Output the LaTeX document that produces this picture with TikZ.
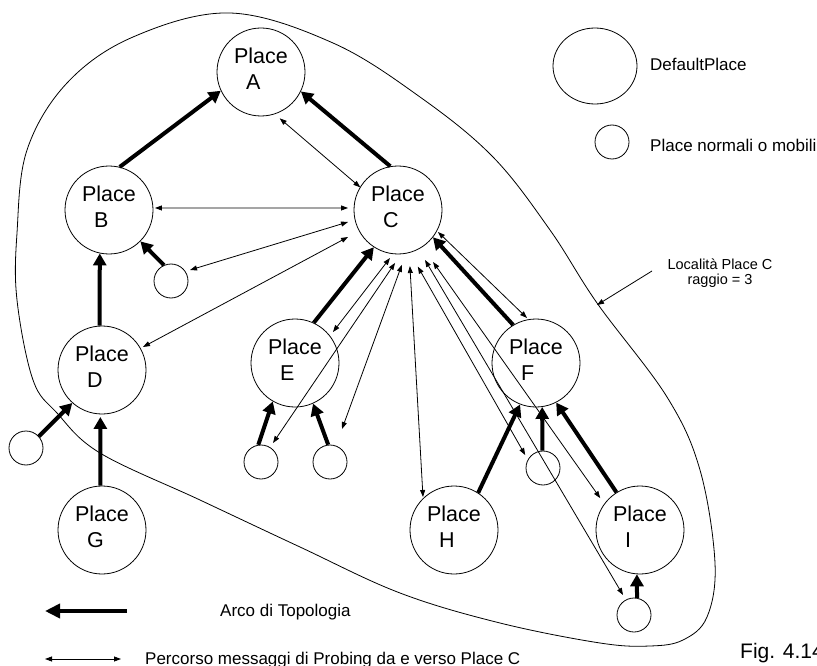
\documentclass[tikz,border=0pt]{standalone}
\usepackage{fontspec}
\setmainfont{Liberation Sans}
\usetikzlibrary{arrows.meta,calc,shapes.geometric}

\begin{document}
\begin{tikzpicture}[x=1pt,y=1pt,
  place/.style={draw, circle, line width=0.8pt, minimum size=88pt, inner sep=0pt,
                align=left, font=\fontsize{21.5}{26}\selectfont, text depth=7pt},
  mini/.style={draw, circle, line width=0.8pt, minimum size=34pt, inner sep=0pt},
  topo/.style={line width=4pt, -{Triangle[length=12pt,width=13pt]}},
  probe/.style={line width=0.8pt, {Triangle[length=7pt,width=5pt]}-{Triangle[length=7pt,width=5pt]}},
  legend/.style={anchor=base west, font=\fontsize{17}{20}\selectfont, inner sep=0pt},
]
\useasboundingbox (0,-666) rectangle (817,0);

% locality of Place C
\draw[line width=0.8pt] plot[smooth cycle, tension=0.6] coordinates {
  (230,-13) (333,-43) (420,-97) (493,-157) (550,-230) (597,-303) (667,-397)
  (700,-470) (715,-563) (707,-617) (683,-640) (650,-646) (600,-643) (500,-623)
  (400,-593) (300,-547) (200,-500) (100,-453) (57,-413) (33,-380) (17,-300)
  (17,-233) (27,-150) (67,-83) (133,-37)};

% places
\node[place] (A) at (261,-72)  {Place\\\hspace*{12pt}A};
\node[place] (B) at (109,-210) {Place\\\hspace*{12pt}B};
\node[place] (C) at (398,-210) {Place\\\hspace*{12pt}C};
\node[place] (D) at (102,-370) {Place\\\hspace*{12pt}D};
\node[place] (E) at (295,-363) {Place\\\hspace*{12pt}E};
\node[place] (F) at (536,-363) {Place\\\hspace*{12pt}F};
\node[place] (G) at (102,-530) {Place\\\hspace*{12pt}G};
\node[place] (H) at (454,-530) {Place\\\hspace*{12pt}H};
\node[place] (I) at (640,-530) {Place\\\hspace*{12pt}I};

\node[mini] (sB)  at (171,-281) {};
\node[mini] (sD)  at (26,-448)  {};
\node[mini] (sE1) at (261,-462) {};
\node[mini] (sE2) at (330,-462) {};
\node[mini] (sF)  at (543,-468) {};
\node[mini] (sI)  at (634,-615) {};
\coordinate (free) at (342,-429);

% topology arcs
\draw[topo] (B.76) -- (A.205);
\draw[topo] (C.100) -- (A.334);
\draw[topo] (sB.114) -- (B.315);
\draw[topo] (D.93) -- (B.258);
\draw[topo] (sD.42) -- (D.228);
\draw[topo] (G.92) -- ($(D)+(268:47)$);
\draw[topo] (E.65) -- (C.237);
\draw[topo] (sE1.99) -- (E.240);
\draw[topo] (sE2.96) -- (E.294);
\draw[topo] (F.121) -- (C.322);
\draw[topo] (H.57) -- (F.249);
\draw[topo] (sF.92) -- (F.278);
\draw[topo] (I.122) -- (F.297);
\draw[topo] (sI.80) -- (I.266);

% probing paths to and from Place C
\draw[probe] ($(A)+(292:50)$) -- ($(C)+(149:44)$);
\draw[probe] ($(B)+(2.5:46)$) -- ($(C)+(177.7:50)$);
\draw[probe] ($(sB)+(30:22)$) -- ($(C)+(193.5:51.4)$);
\draw[probe] ($(D)+(29.3:47)$) -- ($(C)+(208.4:56.8)$);
\draw[probe] ($(E)+(39.2:49)$) -- ($(C)+(260.5:48.7)$);
\draw[probe] ($(sE1)+(57.7:22.5)$) -- ($(C)+(266.8:53)$);
\draw[probe] (free) -- ($(C)+(274:55)$);
\draw[probe] ($(H)+(133.2:45.3)$) -- ($(C)+(282:57.3)$);
\draw[probe] ($(sF)+(144:22)$) -- ($(C)+(289.3:60)$);
\draw[probe] ($(sI)+(118.8:22.8)$) -- ($(C)+(298.4:56.8)$);
\draw[probe] ($(I)+(141.3:51)$) -- ($(C)+(304:62.7)$);
\draw[probe] ($(F)+(101.3:45.9)$) -- ($(C)+(331.2:45.6)$);

% legend, top right
\node[draw, ellipse, line width=0.8pt, minimum width=84pt, minimum height=76pt, inner sep=0pt]
  (defplace) at (595,-66) {};
\node[mini] (normplace) at (612,-142) {};
\node[legend] at (650,-71) {DefaultPlace};
\node[legend] at (650,-152) {Place normali o mobili};

% locality label
\node[align=center, font=\fontsize{14.5}{15.5}\selectfont, inner sep=0pt] (loc) at (720,-273)
  {Località Place C\\raggio = 3};
\coordinate (locfrom) at (652,-271);
\coordinate (locto) at (597,-305);
\draw[line width=0.8pt, -{Triangle[length=7pt,width=5pt]}] (locfrom) -- (locto);

% legend, bottom
\coordinate (topoA) at (127,-611);
\coordinate (topoB) at (45,-611);
\draw[line width=4pt, -{Triangle[length=15pt,width=14pt]}] (topoA) -- (topoB);
\node[legend] at (220,-616) {Arco di Topologia};
\coordinate (probA) at (45,-659);
\coordinate (probB) at (121,-659);
\draw[probe] (probA) -- (probB);
\node[legend] at (145,-664) {Percorso messaggi di Probing da e verso Place C};
\node[legend, font=\fontsize{21}{24}\selectfont] at (740,-658) {Fig. 4.14};
\end{tikzpicture}
\end{document}
